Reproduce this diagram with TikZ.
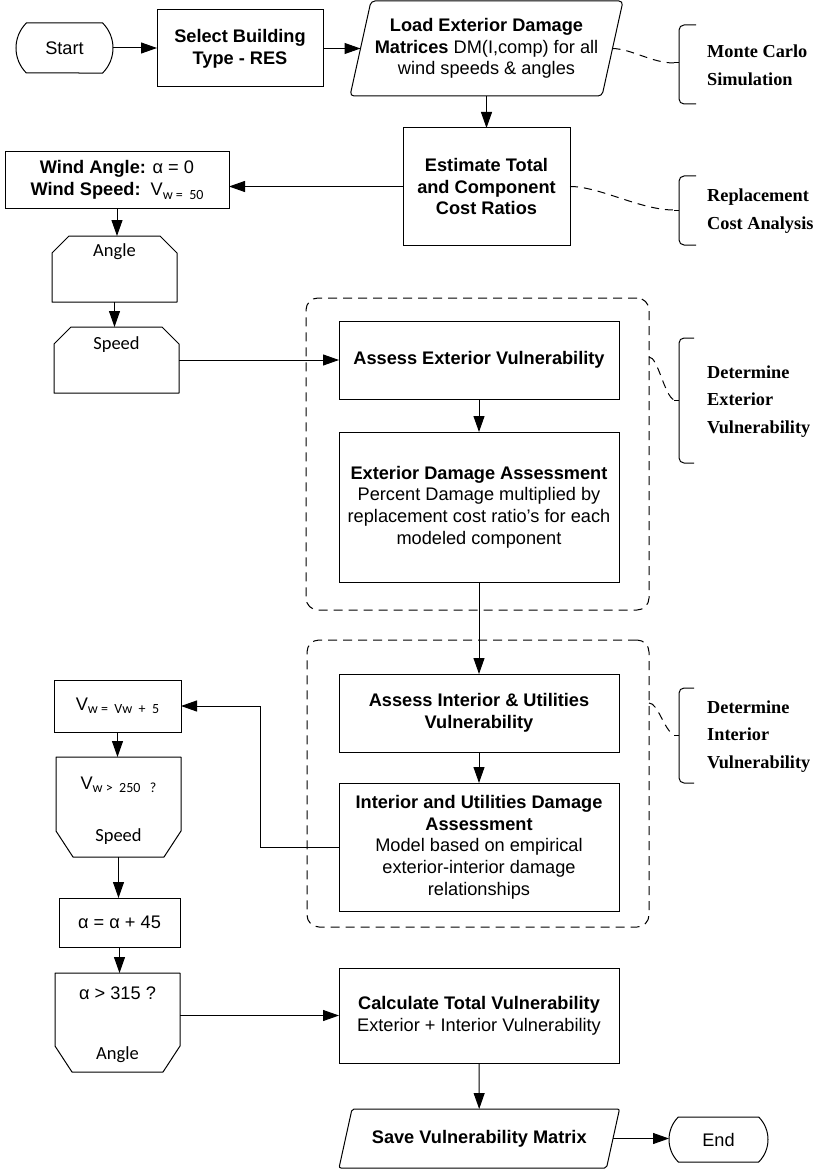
\documentclass[tikz,border=0pt]{standalone}
\usepackage{fontspec}
\setmainfont{Liberation Sans}
\newfontfamily\serifbf{Liberation Serif}
\newfontfamily\calfont{Carlito}
\usetikzlibrary{arrows.meta,shapes.misc,calc}
\newcommand\fsz{\fontsize{18.2pt}{21.7pt}\selectfont}
\newcommand\subsz[1]{\raisebox{-3.5pt}{\calfont\fontsize{14pt}{14pt}\selectfont #1}}
\tikzset{
  base/.style={inner sep=0pt, outer sep=0pt, align=center, font=\fsz, line width=1pt},
  procbox/.style={base, draw, rectangle},
  ghost/.style={base, rectangle},
  shp/.style={line width=1pt, line join=round},
  arr/.style={line width=1pt, -{Triangle[length=16pt,width=11pt]}},
  grp/.style={base, draw, dash pattern=on 9pt off 6pt, rounded corners=12pt, line width=1pt},
  link/.style={line width=1pt, dash pattern=on 8pt off 6pt},
  brk/.style={line width=1pt, rounded corners=5pt},
  note/.style={anchor=west, align=left, font=\serifbf\bfseries\fontsize{18.3pt}{27.7pt}\selectfont, inner sep=0pt},
  tag/.style={inner sep=0pt, font=\calfont\fontsize{18.5pt}{20pt}\selectfont},
  term/.style={base, draw, rounded rectangle, rounded rectangle arc length=90},
}
\begin{document}
\begin{tikzpicture}[x=1pt,y=-1pt]
\useasboundingbox (0,0) rectangle (817,1169);

% top row
\node[term, minimum width=97pt, minimum height=50pt] (start) at (64.5,48) {Start};
\node[procbox, minimum width=166pt, minimum height=77pt] (select) at (240,48.5) {\textbf{Select Building}\\\textbf{Type - RES}};
\node[ghost, minimum width=252pt, minimum height=95pt] (load) at (486.5,48.5) {\textbf{Load Exterior Damage}\\\textbf{Matrices} DM(I,comp) for all\\wind speeds \& angles};
\draw[shp, rounded corners=4pt] ([xshift=10.5pt]load.north west) -- ([xshift=10.5pt]load.north east) -- ([xshift=-10.5pt]load.south east) -- ([xshift=-10.5pt]load.south west) -- cycle;

\node[procbox, minimum width=167pt, minimum height=117pt] (est) at (486.5,186.5) {\textbf{Estimate Total}\\\textbf{and Component}\\\textbf{Cost Ratios}};
\node[procbox, minimum width=224pt, minimum height=56pt] (wind) at (117,180) {\textbf{Wind Angle:} α = 0\\\textbf{Wind Speed:}\ \ V\subsz{w =\ \ 50}};

% loop starts
\node[ghost, minimum width=125pt, minimum height=66pt] (ang1) at (114.5,269) {};
\draw[shp] (ang1.south west) -- ([yshift=-17pt]ang1.north west) -- ([xshift=17pt]ang1.north west) -- ([xshift=-17pt]ang1.north east) -- ([yshift=-17pt]ang1.north east) -- (ang1.south east) -- cycle;
\node[tag] (ang1t) at (114.5,252) {Angle};

\node[ghost, minimum width=125pt, minimum height=66pt] (sp1) at (116.5,360) {};
\draw[shp] (sp1.south west) -- ([yshift=-17pt]sp1.north west) -- ([xshift=17pt]sp1.north west) -- ([xshift=-17pt]sp1.north east) -- ([yshift=-17pt]sp1.north east) -- (sp1.south east) -- cycle;
\node[tag] (sp1t) at (116.5,345) {Speed};

% groups
\node[grp, minimum width=343pt, minimum height=312pt] (grp1) at (477.5,454) {};
\node[grp, minimum width=342pt, minimum height=287pt] (grp2) at (478,783.5) {};

\node[procbox, minimum width=280pt, minimum height=78pt] (asext) at (479,360) {\textbf{Assess Exterior Vulnerability}};
\node[procbox, minimum width=280pt, minimum height=150pt] (extdam) at (479,507) {\textbf{Exterior Damage Assessment}\\Percent Damage multiplied by\\replacement cost ratio's for each\\modeled component};
\node[procbox, minimum width=280pt, minimum height=78pt] (asint) at (479,713) {\textbf{Assess Interior \& Utilities}\\\textbf{Vulnerability}};
\node[procbox, minimum width=280pt, minimum height=128pt] (intdam) at (479,847) {\textbf{Interior and Utilities Damage}\\\textbf{Assessment}\\Model based on empirical\\exterior-interior damage\\relationships};

% loop ends
\node[procbox, minimum width=127pt, minimum height=52pt] (vw) at (117.5,706) {V\subsz{w =\ \ Vw\ \ +\ \ 5}};

\node[ghost, minimum width=125pt, minimum height=100pt] (sp2) at (118.5,807) {};
\draw[shp] (sp2.north west) -- (sp2.north east) -- ([yshift=26pt]sp2.south east) -- ([xshift=-17pt]sp2.south east) -- ([xshift=17pt]sp2.south west) -- ([yshift=26pt]sp2.south west) -- cycle;
\node[base] (sp2a) at (118.5,785) {V\subsz{w >\ \ 250\ \ \ ?}};
\node[tag] (sp2b) at (118.5,837) {Speed};

\node[procbox, minimum width=121pt, minimum height=49pt] (alpha) at (119.5,922.5) {α = α + 45};

\node[ghost, minimum width=125pt, minimum height=99pt] (ang2) at (117.5,1022.5) {};
\draw[shp] (ang2.north west) -- (ang2.north east) -- ([yshift=26pt]ang2.south east) -- ([xshift=-17pt]ang2.south east) -- ([xshift=17pt]ang2.south west) -- ([yshift=26pt]ang2.south west) -- cycle;
\node[base] (ang2a) at (117.5,993) {α > 315 ?};
\node[tag] (ang2b) at (117.5,1055) {Angle};

\node[procbox, minimum width=280pt, minimum height=95pt] (calc) at (479,1015.5) {\textbf{Calculate Total Vulnerability}\\Exterior + Interior Vulnerability};

\node[ghost, minimum width=267.5pt, minimum height=59pt] (save) at (479.25,1138.5) {\textbf{Save Vulnerability Matrix}};
\draw[shp, rounded corners=2pt] ([xshift=6.5pt]save.north west) -- ([xshift=6.5pt]save.north east) -- ([xshift=-6.5pt]save.south east) -- ([xshift=-6.5pt]save.south west) -- cycle;

\node[term, minimum width=99pt, minimum height=45pt] (end) at (718.5,1139.5) {End};

% connectors
\draw[arr] (start.east) -- (start.east -| select.west);
\draw[arr] (select.east) -- (select.east -| load.west);
\draw[arr] (load.south) -- (load.south |- est.north);
\draw[arr] (est.west) -- (est.west -| wind.east);
\draw[arr] (wind.south) -- (wind.south |- ang1.north);
\draw[arr] (ang1.south) -- (ang1.south |- sp1.north);
\draw[arr] (sp1.east) -- (asext.west);
\draw[arr] (asext) -- (extdam);
\draw[arr] (extdam) -- (asint);
\draw[arr] (asint) -- (intdam);
\coordinate (loopc) at (260,847);
\draw[arr] (intdam.west) -- (loopc) |- (vw.east);
\draw[arr] (vw.south) -- (vw.south |- sp2.north);
\draw[arr] (sp2.south) -- (sp2.south |- alpha.north);
\draw[arr] (alpha.south) -- (alpha.south |- ang2.north);
\draw[arr] (ang2.east |- calc.west) -- (calc.west);
\draw[arr] (calc) -- (save);
\draw[arr] (save.east) -- (save.east -| end.west);

% annotation brackets
\draw[brk] (696,25) -- (679,25) -- (679,104) -- (696,104);
\coordinate (mcb) at (674,63);
\draw[shp] (679,63) -- (mcb);
\draw[link] (load.east) .. controls (632,49) and (652,63) .. (mcb);
\node[note] (mct) at (707,65) {Monte Carlo\\Simulation};

\draw[brk] (696,176) -- (679,176) -- (679,245) -- (696,245);
\coordinate (rcb) at (674,210);
\draw[shp] (679,210) -- (rcb);
\draw[link] (est.east) .. controls (600,186.5) and (640,210) .. (rcb);
\node[note] (rct) at (707,211) {Replacement\\Cost Analysis};

\draw[brk] (694,338) -- (679,338) -- (679,463) -- (694,463);
\coordinate (deb) at (674,400);
\draw[shp] (679,400) -- (deb);
\draw[link] ([yshift=-59pt]grp1.north east) .. controls (658,357) and (664,395) .. (deb);
\node[note] (det) at (707,401.5) {Determine\\Exterior\\Vulnerability};

\draw[brk] (694,688) -- (679,688) -- (679,783) -- (694,783);
\coordinate (dib) at (674,735);
\draw[shp] (679,735) -- (dib);
\draw[link] ([yshift=-63pt]grp2.north east) .. controls (658,703) and (664,730) .. (dib);
\node[note] (dit) at (707,736.5) {Determine\\Interior\\Vulnerability};
\end{tikzpicture}
\end{document}
